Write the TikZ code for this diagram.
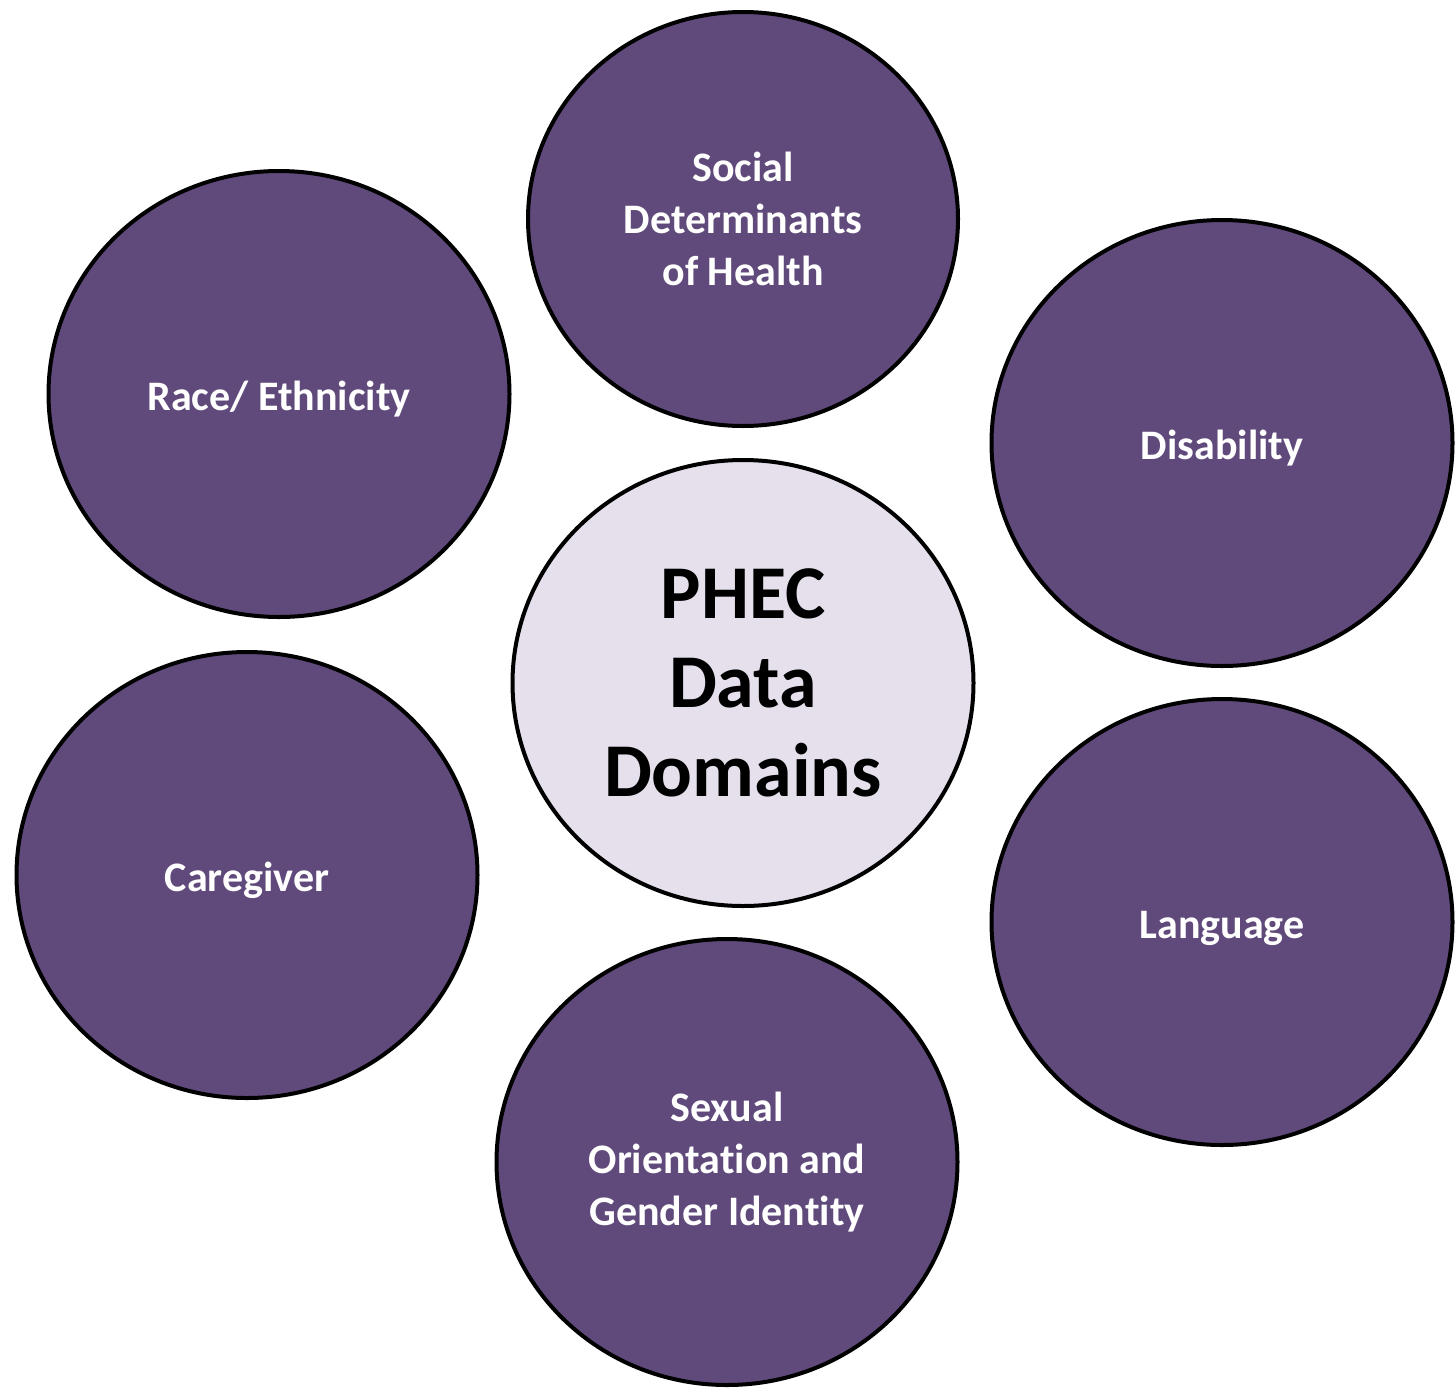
\documentclass[tikz,border=0pt]{standalone}
\usepackage{fontspec}
\setmainfont{Carlito}[Ligatures=NoCommon]
\usetikzlibrary{shapes.geometric}
\definecolor{domainpurple}{HTML}{604A7B}
\definecolor{hublilac}{HTML}{E5E0EC}
\begin{document}
\begin{tikzpicture}[x=1pt, y=-1pt,
		every node/.style={ellipse, draw=black, line width=4pt, inner sep=0pt,
			minimum width=461pt, minimum height=446pt, align=center, font=\bfseries},
		domaincircle/.style={fill=domainpurple, text=white, font=\bfseries\fontsize{42}{52}\selectfont},
		oneline/.style={domaincircle, text height=36pt, text depth=4pt},
		hubcircle/.style={fill=hublilac, text=black, font=\bfseries\fontsize{76}{89}\selectfont}]
	\useasboundingbox (0,0) rectangle (1455,1387);

	\node[domaincircle, minimum width=430pt, minimum height=414pt] (social) at (743,219) {Social\\Determinants\\of Health};
	\node[oneline] (race) at (279,394) {Race/ Ethnicity};
	\node[oneline] (disab) at (1222,443) {Disability};
	\node[hubcircle] (phec) at (743,683) {PHEC\\Data\\Domains};
	\node[oneline] (care) at (247,875) {Caregiver};
	\node[oneline] (lang) at (1222,922) {Language};
	\node[domaincircle] (sexual) at (727,1162) {Sexual\\Orientation and\\Gender Identity};
\end{tikzpicture}
\end{document}
